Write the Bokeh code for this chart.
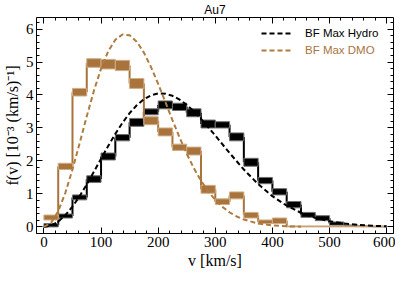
from bokeh.plotting import figure
from bokeh.models import (Range1d, LinearAxis, SingleIntervalTicker, Legend, LegendItem,
                          CustomJSTickFormatter)
from bokeh.embed import file_html
from bokeh.resources import INLINE

# ---- data ----
bin_edges = list(range(0, 625, 25))
hydro_lo = [0.00, 0.27, 0.82, 1.35, 2.03, 2.61, 3.05, 3.40, 3.58, 3.53, 3.34, 3.00,
            3.00, 2.61, 1.84, 1.31, 0.97, 0.58, 0.29, 0.19, 0.05, 0.02, 0.01, 0.00]
hydro_hi = [0.10, 0.39, 0.97, 1.55, 2.24, 2.80, 3.29, 3.58, 3.82, 3.75, 3.58, 3.24,
            3.19, 2.85, 2.08, 1.50, 1.16, 0.77, 0.44, 0.34, 0.15, 0.06, 0.04, 0.02]
dmo_lo = [0.21, 1.74, 3.97, 4.84, 4.79, 4.74, 4.20, 3.10, 2.76, 2.32, 2.18, 1.02,
          0.68, 0.85, 0.27, 0.10, 0.10, 0.00, 0.00, 0.00, 0.00, 0.00, 0.00, 0.00]
dmo_hi = [0.36, 1.93, 4.20, 5.10, 5.08, 5.05, 4.50, 3.34, 3.00, 2.51, 2.42, 1.26,
          0.85, 1.06, 0.44, 0.21, 0.27, 0.03, 0.03, 0.03, 0.03, 0.03, 0.03, 0.03]

hydro_fit_v = [0, 12.5, 25, 37.5, 50, 62.5, 75, 87.5, 100, 112.5, 125, 137.5, 150,
               162.5, 175, 187.5, 200, 212.5, 225, 237.5, 250, 262.5, 275, 287.5,
               300, 325, 350, 375, 400, 425, 450, 475, 500, 525, 550, 575, 600]
hydro_fit_f = [0.0, 0.041, 0.161, 0.356, 0.617, 0.932, 1.289, 1.672, 2.065, 2.453,
               2.822, 3.158, 3.450, 3.690, 3.871, 3.990, 4.046, 4.040, 3.976, 3.861,
               3.700, 3.502, 3.277, 3.029, 2.771, 2.241, 1.740, 1.297, 0.931, 0.643,
               0.429, 0.275, 0.171, 0.102, 0.059, 0.033, 0.018]
dmo_fit_v = [0, 12.5, 25, 37.5, 50, 62.5, 75, 87.5, 100, 112.5, 125, 137.5, 150,
             162.5, 175, 187.5, 200, 212.5, 225, 237.5, 250, 262.5, 275, 287.5,
             300, 312.5, 325, 337.5, 350, 375, 400, 425, 450]
dmo_fit_f = [0.0, 0.122, 0.478, 1.034, 1.741, 2.537, 3.354, 4.128, 4.800, 5.325,
             5.675, 5.836, 5.810, 5.618, 5.286, 4.846, 4.338, 3.791, 3.241, 2.711,
             2.220, 1.781, 1.401, 1.081, 0.817, 0.607, 0.442, 0.316, 0.222, 0.104,
             0.045, 0.018, 0.007]

title_text = "Au7"
x_label = "v [km/s]"
y_label = "f(v) [10\u207b\u00b3 (km/s)\u207b\u00b9]"
hydro_name = "BF Max Hydro"
dmo_name = "BF Max DMO"

BLACK = "#000000"
BROWN = "#A8733C"
BROWN_DASH = "#B07B3E"
BROWN_EDGE = "#CFAE85"
GREY_EDGE = "#6E6E6E"
SERIF = "Liberation Serif"
SANS = "Liberation Sans"

FRAME_W = 357
FRAME_H = 216

p = figure(frame_width=FRAME_W, frame_height=FRAME_H, output_backend="svg",
           toolbar_location=None,
           x_range=Range1d(-13, 612), y_range=Range1d(-0.2, 6.35),
           min_border_left=30, min_border_right=2, min_border_top=12,
           min_border_bottom=38, background_fill_color="white",
           border_fill_color="white")
p.title.text = title_text
p.title.align = "center"
p.title.text_font = SANS
p.title.text_font_size = "12px"
p.title.text_font_style = "normal"
p.title.text_color = "black"
p.title.standoff = 1
p.title.offset = 0
p.xgrid.visible = False
p.ygrid.visible = False
p.outline_line_color = "black"
p.outline_line_width = 1


def style_axis(ax, labels=True):
    ax.axis_line_color = None
    ax.major_tick_in = 6
    ax.major_tick_out = 0
    ax.minor_tick_in = 3
    ax.minor_tick_out = 0
    ax.major_tick_line_color = "black"
    ax.minor_tick_line_color = "black"
    if labels:
        ax.major_label_text_font = SERIF
        ax.major_label_text_font_size = "15px"
        ax.major_label_text_color = "black"
        ax.major_label_standoff = 3
        ax.axis_label_text_font = SERIF
        ax.axis_label_text_font_size = "16px"
        ax.axis_label_text_font_style = "normal"
        ax.axis_label_text_color = "black"
        ax.axis_label_standoff = 2
    else:
        ax.formatter = CustomJSTickFormatter(code="return ''")
        ax.major_label_standoff = 0


p.xaxis.ticker = SingleIntervalTicker(interval=100, num_minor_ticks=5)
p.yaxis.ticker = SingleIntervalTicker(interval=1, num_minor_ticks=5)
p.xaxis.axis_label = x_label
p.yaxis.axis_label = y_label
style_axis(p.xaxis[0])
style_axis(p.yaxis[0])

top_ax = LinearAxis(ticker=SingleIntervalTicker(interval=100, num_minor_ticks=5))
right_ax = LinearAxis(ticker=SingleIntervalTicker(interval=1, num_minor_ticks=5))
style_axis(top_ax, labels=False)
style_axis(right_ax, labels=False)
p.add_layout(top_ax, "above")
p.add_layout(right_ax, "right")


def draw_hist(lo, hi, fill, edge):
    left = bin_edges[:-1]
    right = bin_edges[1:]
    mid = [(a + b) / 2 for a, b in zip(lo, hi)]
    p.segment(x0=bin_edges[1:-1], y0=mid[:-1], x1=bin_edges[1:-1], y1=mid[1:],
              line_color=fill, line_width=2)
    p.quad(left=left, right=right, bottom=lo, top=hi, fill_color=fill,
           line_color=edge, line_width=1)


draw_hist(hydro_lo, hydro_hi, BLACK, GREY_EDGE)
draw_hist(dmo_lo, dmo_hi, BROWN, BROWN_EDGE)

r_h = p.line(hydro_fit_v, hydro_fit_f, line_color=BLACK, line_width=2, line_dash="5 3")
r_d = p.line(dmo_fit_v, dmo_fit_f, line_color=BROWN_DASH, line_width=2, line_dash="5 3")

# legend rows: location y is the legend's bottom edge, measured from the frame bottom
for i, (name, r, col) in enumerate([(hydro_name, r_h, BLACK), (dmo_name, r_d, BROWN)]):
    lg = Legend(items=[LegendItem(label=name, renderers=[r])],
                location=(225, FRAME_H - 24 - 17 * i),
                background_fill_alpha=0, border_line_color=None,
                padding=0, margin=0, glyph_width=32, glyph_height=16,
                label_height=16, label_standoff=12,
                label_text_font=SANS, label_text_font_size="11.5px",
                label_text_color=col)
    p.add_layout(lg, "center")

open("out.html", "w").write(file_html(p, INLINE))
